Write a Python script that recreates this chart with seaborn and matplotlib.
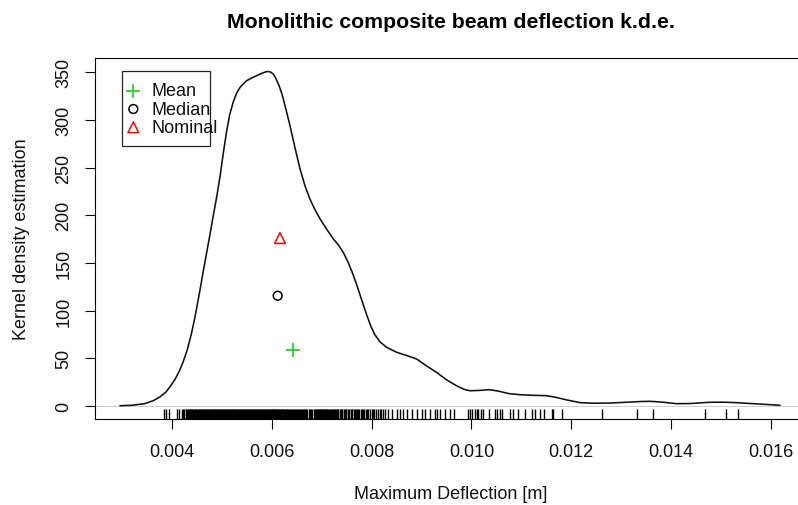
import matplotlib
matplotlib.use("Agg")
import matplotlib.pyplot as plt
import seaborn as sns
import pandas as pd
from matplotlib.patches import Rectangle

# ---- data ----
# kernel density curve (x in mm, density)
curve_x_mm = [2.95, 3.20, 3.45, 3.62, 3.75, 3.87, 3.95, 4.05, 4.14, 4.22, 4.30, 4.38,
              4.45, 4.49, 4.56, 4.62, 4.69, 4.76, 4.82, 4.89, 4.96, 5.02, 5.09, 5.15,
              5.22, 5.29, 5.36, 5.43, 5.49, 5.60, 5.69, 5.80, 5.88, 5.93, 5.98, 6.03,
              6.08, 6.14, 6.20, 6.28, 6.36, 6.46, 6.56, 6.66, 6.76, 6.86, 6.96, 7.10,
              7.23, 7.33, 7.43, 7.52, 7.61, 7.70, 7.80, 7.90, 7.98, 8.06, 8.17, 8.30,
              8.50, 8.70, 8.90, 9.10, 9.30, 9.50, 9.70, 9.85, 9.97, 10.15, 10.37, 10.55,
              10.75, 10.98, 11.25, 11.51, 11.70, 11.90, 12.18, 12.45, 12.78, 13.10, 13.40,
              13.58, 13.80, 14.12, 14.40, 14.77, 15.05, 15.32, 15.60, 15.86, 16.19]
curve_density = [0.3, 0.8, 2.5, 5.6, 9.5, 14.5, 19.9, 27.5, 36.5, 46.5, 59.0, 75.0,
                 92.0, 103.0, 123.0, 141.0, 161.0, 181.0, 199.0, 219.0, 241.4, 264.0, 288.0, 305.0,
                 318.3, 328.0, 334.1, 338.0, 341.0, 344.0, 346.2, 348.8, 350.4, 350.6, 349.8, 347.8,
                 343.0, 336.0, 327.0, 311.0, 294.0, 271.0, 249.0, 231.0, 217.0, 206.0, 196.5, 185.0,
                 175.1, 169.0, 161.0, 151.5, 140.0, 127.0, 111.0, 95.5, 84.0, 75.0, 67.0, 61.5,
                 56.3, 53.0, 49.3, 42.0, 35.3, 27.5, 21.3, 17.5, 16.0, 16.3, 17.1, 15.5,
                 13.0, 11.8, 11.2, 10.8, 9.0, 6.5, 3.5, 2.9, 3.1, 3.9, 4.7,
                 4.9, 4.2, 2.4, 2.6, 3.9, 4.0, 3.5, 2.6, 1.8, 0.8]

# rug of observed maximum deflections (mm)
rug_mm = [3.83, 3.87, 3.93, 4.09, 4.14, 4.19,
          4.22, 4.24, 4.27, 4.28, 4.30, 4.32, 4.33, 4.35, 4.37, 4.38, 4.40, 4.42, 4.43,
          4.45, 4.47, 4.48, 4.50, 4.51, 4.53, 4.55, 4.56, 4.58, 4.59, 4.61, 4.62, 4.64,
          4.66, 4.67, 4.69, 4.70, 4.72, 4.73, 4.75, 4.77, 4.78, 4.80, 4.81, 4.83, 4.84,
          4.86, 4.88, 4.89, 4.91, 4.92, 4.94, 4.95, 4.97, 4.99, 5.00, 5.02, 5.03, 5.05,
          5.06, 5.08, 5.10, 5.11, 5.13, 5.14, 5.16, 5.17, 5.19, 5.21, 5.22, 5.24, 5.25,
          5.27, 5.28, 5.30, 5.32, 5.33, 5.35, 5.36, 5.38, 5.39, 5.41, 5.43, 5.44, 5.46,
          5.47, 5.49, 5.50, 5.52, 5.54, 5.55, 5.57, 5.58, 5.60, 5.61, 5.63, 5.65, 5.66,
          5.68, 5.69, 5.71, 5.72, 5.74, 5.76, 5.77, 5.79, 5.80, 5.82, 5.83, 5.85, 5.87,
          5.88, 5.90, 5.91, 5.93, 5.94, 5.96, 5.98, 5.99, 6.01, 6.02, 6.04, 6.05, 6.07,
          6.09, 6.10, 6.12, 6.13, 6.15, 6.16, 6.18, 6.20, 6.21, 6.23, 6.24, 6.26, 6.28,
          6.30, 6.31, 6.33, 6.35, 6.37, 6.38, 6.40, 6.42, 6.44, 6.46, 6.48, 6.50, 6.52,
          6.54, 6.56, 6.58, 6.60, 6.62, 6.64, 6.67, 6.69, 6.71, 6.74, 6.76, 6.79, 6.81,
          6.84, 6.87,
          6.89, 6.90, 6.92, 6.93, 6.94, 6.96, 6.97, 6.99, 7.00, 7.01, 7.03, 7.05, 7.06,
          7.08, 7.10, 7.11, 7.13, 7.15, 7.17, 7.18, 7.20, 7.22, 7.23, 7.25, 7.27, 7.28,
          7.30, 7.32, 7.33, 7.36, 7.38, 7.40, 7.41, 7.44, 7.46, 7.48, 7.49, 7.52, 7.54,
          7.55, 7.58, 7.60, 7.61, 7.64, 7.66, 7.68, 7.71, 7.73, 7.74, 7.78, 7.81, 7.83,
          7.85, 7.88, 7.90, 7.92, 7.96, 8.00, 8.02, 8.04, 8.09, 8.13, 8.16, 8.18, 8.22,
          8.27, 8.33, 8.40, 8.50, 8.57, 8.63, 8.70, 8.80, 8.90, 9.00, 9.07, 9.17, 9.27,
          9.30, 9.37, 9.47, 9.57, 9.65, 9.93, 9.97, 10.01, 10.07, 10.11, 10.14, 10.19,
          10.24, 10.36, 10.47, 10.52, 10.57, 10.61, 10.77, 10.83, 10.94, 11.08, 11.21,
          11.28, 11.38, 11.46, 11.61, 11.64, 11.81, 12.61, 13.32, 13.64, 14.69, 15.11, 15.35]

stat_names = ["Mean", "Median", "Nominal"]
stat_x_mm = [6.415, 6.114, 6.160]
stat_y = [59.0, 115.6, 176.0]
stat_colors = ["#00CD00", "black", "#FF0000"]
stat_markers = ["+", "o", "^"]
stat_sizes = [90, 40, 60]

x_ticks = [0.004, 0.006, 0.008, 0.010, 0.012, 0.014, 0.016]
x_tick_labels = ["0.004", "0.006", "0.008", "0.010", "0.012", "0.014", "0.016"]
y_ticks = [0, 50, 100, 150, 200, 250, 300, 350]
y_tick_labels = ["0", "50", "100", "150", "200", "250", "300", "350"]

# ---- style ----
sns.set_theme(style="white")
plt.rcParams['font.family'] = ['Liberation Sans', 'DejaVu Sans']
plt.rcParams['axes.edgecolor'] = 'black'
plt.rcParams['axes.linewidth'] = 0.8

fig = plt.figure(figsize=(7.98, 5.06), dpi=100)
ax = fig.add_axes([95 / 798, 85.6 / 506, 711 / 798, 361.6 / 506])

curve = pd.DataFrame({"x": [v / 1000 for v in curve_x_mm], "density": curve_density})
rug = pd.DataFrame({"x": [v / 1000 for v in rug_mm]})

ax.axhline(0, color="#BBBBBB", lw=0.5, zorder=1)
sns.lineplot(data=curve, x="x", y="density", color="#111111", lw=1.15, ax=ax, zorder=3)
sns.rugplot(data=rug, x="x", height=0.03, color="black", lw=0.75, ax=ax, expand_margins=False)

for name, xv, yv, c, m, s in zip(stat_names, stat_x_mm, stat_y, stat_colors, stat_markers, stat_sizes):
    if m == "+":
        sns.scatterplot(x=[xv / 1000], y=[yv], marker=m, s=s, color=c, linewidth=1.1, ax=ax, zorder=4)
    else:
        sns.scatterplot(x=[xv / 1000], y=[yv], marker=m, s=s, facecolor="none",
                        edgecolor=c, linewidth=1.1, ax=ax, zorder=4)

ax.set_xlim(0.0024493, 0.016712)
ax.set_ylim(-14.05, 365.0)
ax.set_xticks(x_ticks)
ax.set_xticklabels(x_tick_labels)
ax.set_yticks(y_ticks)
ax.set_yticklabels(y_tick_labels, rotation=90, va="center")
ax.tick_params(axis="both", direction="out", length=7.2, width=0.8, color="black",
               labelsize=13, labelcolor="#111111", bottom=True, left=True)
ax.tick_params(axis="x", pad=10)
ax.tick_params(axis="y", pad=9)

ax.set_xlabel("Maximum Deflection [m]", fontsize=13, labelpad=18, color="#111111")
ax.set_ylabel("Kernel density estimation", fontsize=13, labelpad=18, color="#111111")
ax.set_title("Monolithic composite beam deflection k.d.e.", fontsize=15.3,
             fontweight="bold", pad=22, color="black")

# legend box (R style)
ax.add_patch(Rectangle((0.0376, 0.7553), 0.1241, 0.2074, transform=ax.transAxes,
                       facecolor="white", edgecolor="#222222", lw=0.9, zorder=5))
leg_y = [0.909, 0.8584, 0.8078]
for name, c, m, s, ly in zip(stat_names, stat_colors, stat_markers, stat_sizes, leg_y):
    if m == "+":
        ax.scatter([0.0539], [ly], marker=m, s=s, color=c, linewidth=1.1,
                   transform=ax.transAxes, zorder=6)
    else:
        ax.scatter([0.0539], [ly], marker=m, s=s, facecolor="none", edgecolor=c,
                   linewidth=1.1, transform=ax.transAxes, zorder=6)
    ax.text(0.0797, ly, name, transform=ax.transAxes, fontsize=13, va="center",
            ha="left", color="#111111", zorder=6)

fig.savefig("out.png", dpi=100)
